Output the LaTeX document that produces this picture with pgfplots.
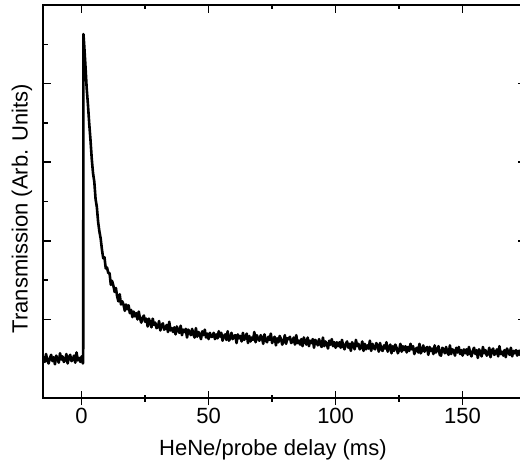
\documentclass[border=0pt]{standalone}
\usepackage{pgfplots}
\pgfplotsset{compat=1.18}
\usepackage{fontspec}
\setmainfont{Liberation Sans}
\begin{document}
\begin{tikzpicture}
\pgfplotsset{
  common/.style={
    scale only axis, width=241.5pt, height=196.5pt,
    xmin=-15.2, xmax=175, ymin=0, ymax=5,
    axis line style={line width=0.9pt},
    every tick/.style={black, line width=0.8pt},
    /pgf/number format/assume math mode=true,
    tick label style={font=\fontsize{11pt}{13pt}\selectfont},
    label style={font=\fontsize{11pt}{13pt}\selectfont},
  }
}
\begin{axis}[common,
  xtick={0,50,100,150}, minor xtick={25,75,125,175},
  xtick pos=left, tick align=center,
  major tick length=7pt, minor tick length=3.5pt,
  ytick=\empty,
  xticklabel style={anchor=north, inner sep=0pt, yshift=-1.5pt},
  xlabel={HeNe/probe delay (ms)},
  ylabel={Transmission (Arb. Units)},
  xlabel style={at={(axis description cs:0.476,-0.145)}, anchor=base},
  ylabel style={at={(axis description cs:-0.0435,0.482)}, anchor=center},
]
\addplot[black, line width=1.3pt, line join=round] coordinates {
(-15,0.53)(-14.5,0.46)(-14,0.56)(-13.5,0.48)(-13,0.44)(-12.5,0.51)(-12,0.55)(-11.5,0.47)
(-11,0.52)(-10.5,0.43)(-10,0.54)(-9.5,0.50)(-9,0.45)(-8.5,0.57)(-8,0.49)(-7.5,0.53)
(-7,0.46)(-6.5,0.48)(-6,0.56)(-5.5,0.44)(-5,0.52)(-4.5,0.55)(-4,0.47)(-3.5,0.49)
(-3,0.54)(-2.5,0.45)(-2,0.58)(-1.5,0.48)(-1,0.51)(-0.5,0.46)(0,0.53)(0.5,0.44)
(0.62,0.47)(0.72,4.63)(1.0,4.50)(1.5,4.23)(2.0,3.94)(2.5,3.73)(3.0,3.49)(3.5,3.28)
(4.0,3.04)(4.5,2.86)(5.0,2.75)(5.5,2.53)(6.0,2.43)(6.5,2.24)(7.0,2.12)
(7.5,2.03)(8,1.89)(8.5,1.78)(9,1.79)(9.5,1.65)(10,1.66)(10.5,1.59)(11,1.59)
(11.5,1.44)(12,1.49)(12.5,1.43)(13,1.35)(13.5,1.40)(14,1.29)(14.5,1.23)(15,1.32)
(15.5,1.19)(16,1.23)(16.5,1.19)(17,1.11)(17.5,1.19)(18,1.13)(18.5,1.18)(19,1.08)
(19.5,1.12)(20,1.03)(20.5,1.10)(21,1.04)
(21.5,1.08)(22,1.00)(22.5,1.10)(23,1.01)(23.5,0.96)(24,1.02)(24.5,1.05)(25,0.97)
(25.5,1.01)(26,0.91)(26.5,1.01)(27,0.96)(27.5,0.90)(28,1.01)(28.5,0.93)(29,0.96)
(29.5,0.89)(30,0.90)(30.5,0.98)(31,0.86)(31.5,0.93)(32,0.95)(32.5,0.87)(33,0.89)
(33.5,0.93)(34,0.84)(34.5,0.97)(35,0.86)(35.5,0.89)(36,0.84)(36.5,0.90)(37,0.81)
(37.5,0.91)(38,0.86)(38.5,0.83)(39,0.92)(39.5,0.80)(40,0.87)(40.5,0.84)(41,0.88)
(41.5,0.77)(42,0.87)(42.5,0.84)(43,0.80)(43.5,0.88)(44,0.81)(44.5,0.77)(45,0.89)
(45.5,0.78)(46,0.84)(46.5,0.81)(47,0.75)(47.5,0.85)(48,0.80)(48.5,0.87)(49,0.77)
(49.5,0.82)(50,0.75)(50.5,0.83)(51,0.78)
(51.5,0.78)(52,0.83)(52.5,0.75)(53,0.81)(53.5,0.76)(54,0.85)(54.5,0.78)(55,0.83)
(55.5,0.73)(56,0.79)(56.5,0.81)(57,0.74)(57.5,0.85)(58,0.73)(58.5,0.76)(59,0.83)
(59.5,0.75)(60,0.79)(60.5,0.80)(61,0.70)(61.5,0.81)(62,0.76)(62.5,0.79)(63,0.72)
(63.5,0.83)(64,0.74)(64.5,0.77)(65,0.82)(65.5,0.70)(66,0.79)(66.5,0.72)(67,0.77)
(67.5,0.74)(68,0.84)(68.5,0.71)(69,0.80)(69.5,0.75)(70,0.73)(70.5,0.80)(71,0.77)
(71.5,0.69)(72,0.81)(72.5,0.73)(73,0.71)(73.5,0.78)(74,0.74)(74.5,0.82)(75,0.70)
(75.5,0.74)(76,0.78)(76.5,0.67)(77,0.76)(77.5,0.71)(78,0.79)(78.5,0.75)(79,0.68)
(79.5,0.72)(80,0.80)(80.5,0.69)(81,0.76)
(81.5,0.75)(82,0.78)(82.5,0.70)(83,0.72)(83.5,0.77)(84,0.68)(84.5,0.80)(85,0.70)
(85.5,0.73)(86,0.68)(86.5,0.75)(87,0.66)(87.5,0.77)(88,0.72)(88.5,0.68)(89,0.77)
(89.5,0.66)(90,0.73)(90.5,0.70)(91,0.75)(91.5,0.64)(92,0.74)(92.5,0.71)(93,0.67)
(93.5,0.75)(94,0.68)(94.5,0.65)(95,0.77)(95.5,0.66)(96,0.72)(96.5,0.69)(97,0.63)
(97.5,0.73)(98,0.68)(98.5,0.75)(99,0.66)(99.5,0.71)(100,0.64)(100.5,0.71)(101,0.66)
(101.5,0.71)(102,0.64)(102.5,0.74)(103,0.66)(103.5,0.62)(104,0.69)(104.5,0.72)(105,0.64)
(105.5,0.69)(106,0.60)(106.5,0.71)(107,0.67)(107.5,0.62)(108,0.74)(108.5,0.66)(109,0.69)
(109.5,0.62)(110,0.64)(110.5,0.72)(111,0.60)
(111.5,0.69)(112,0.62)(112.5,0.67)(113,0.63)(113.5,0.73)(114,0.60)(114.5,0.69)(115,0.64)
(115.5,0.62)(116,0.70)(116.5,0.67)(117,0.59)(117.5,0.70)(118,0.62)(118.5,0.60)(119,0.67)
(119.5,0.63)(120,0.71)(120.5,0.59)(121,0.64)(121.5,0.68)(122,0.57)(122.5,0.66)(123,0.60)
(123.5,0.68)(124,0.64)(124.5,0.57)(125,0.61)(125.5,0.69)(126,0.59)(126.5,0.66)(127,0.61)
(127.5,0.66)(128,0.58)(128.5,0.65)(129,0.60)(129.5,0.69)(130,0.62)(130.5,0.66)(131,0.56)
(131.5,0.62)(132,0.64)(132.5,0.58)(133,0.69)(133.5,0.57)(134,0.60)(134.5,0.67)(135,0.59)
(135.5,0.63)(136,0.65)(136.5,0.55)(137,0.65)(137.5,0.60)(138,0.63)(138.5,0.56)(139,0.67)
(139.5,0.58)(140,0.61)(140.5,0.66)(141,0.55)
(141.5,0.54)(142,0.64)(142.5,0.62)(143,0.57)(143.5,0.65)(144,0.58)(144.5,0.55)(145,0.67)
(145.5,0.56)(146,0.62)(146.5,0.60)(147,0.54)(147.5,0.64)(148,0.58)(148.5,0.65)(149,0.56)
(149.5,0.61)(150,0.54)(150.5,0.62)(151,0.57)(151.5,0.62)(152,0.55)(152.5,0.65)(153,0.57)
(153.5,0.53)(154,0.60)(154.5,0.64)(155,0.56)(155.5,0.61)(156,0.51)(156.5,0.62)(157,0.58)
(157.5,0.53)(158,0.65)(158.5,0.57)(159,0.61)(159.5,0.54)(160,0.56)(160.5,0.64)(161,0.52)
(161.5,0.60)(162,0.63)(162.5,0.55)(163,0.57)(163.5,0.62)(164,0.53)(164.5,0.66)(165,0.56)
(165.5,0.59)(166,0.54)(166.5,0.61)(167,0.52)(167.5,0.63)(168,0.58)(168.5,0.55)(169,0.64)
(169.5,0.53)(170,0.60)(170.5,0.57)(171,0.61)(171.5,0.54)(172,0.60)(172.5,0.55)(173,0.62)
(173.5,0.53)(174,0.59)(174.5,0.56)(175,0.60)
};
\coordinate (BL) at (rel axis cs:0,0);
\coordinate (TR) at (axis cs:172.6,5);
\end{axis}
\begin{axis}[common,
  xtick={0,50,100,150}, minor xtick={25,75,125,175},
  xtick pos=right, ytick pos=both, tick align=inside,
  ytick={1,2,3,4}, minor ytick={0.5,1.5,2.5,3.5,4.5},
  major tick length=4pt, minor tick length=2.25pt,
  xticklabels={}, yticklabels={},
]
\end{axis}
\pgfresetboundingbox
\path ([shift={(-21.5pt,-33pt)}]BL) rectangle ([shift={(0pt,2.5pt)}]TR);
\end{tikzpicture}
\end{document}
